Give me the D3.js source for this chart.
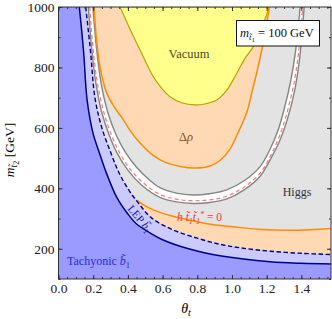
<!DOCTYPE html>
<html><head><meta charset="utf-8">
<script src="https://cdn.jsdelivr.net/npm/d3@7"></script>
<style>
body{margin:0;background:#fff}
svg{display:block;font-family:"Liberation Serif","DejaVu Serif",serif}
svg text{font-family:"Liberation Serif","DejaVu Serif",serif}
</style></head><body>
<svg id="chart" width="332" height="319"></svg>
<script>
// curves as [theta_t, m_t2 (GeV)]
const tachyonic = [[0.12,1000],[0.145,850],[0.165,692],[0.2,580],[0.23,527],[0.27,460],[0.336,370],[0.4,315],[0.45,282],[0.53,252],[0.6,230],[0.75,200],[0.94,176],[1.22,157],[1.4,152],[1.571,150]];
const lepSbottom = [[0.157,1000],[0.185,850],[0.21,700],[0.25,600],[0.3,520],[0.35,450],[0.41,390],[0.46,352],[0.53,305],[0.65,265],[0.8,235],[0.93,215],[1.05,203],[1.22,192],[1.4,185],[1.571,181]];
const rhoLow = [[0.45,362],[0.5,342],[0.55,328],[0.65,309],[0.75,295],[0.85,284],[0.95,276],[1.05,270],[1.15,265],[1.25,262],[1.35,261],[1.45,263],[1.571,267]];
const rhoUp = [[0.205,1000],[0.218,900],[0.24,800],[0.275,720],[0.32,670],[0.37,630],[0.42,585],[0.47,550],[0.547,508],[0.62,485],[0.7,472],[0.79,467],[0.874,474],[0.931,492],[0.989,530],[1.04,590],[1.085,650],[1.12,730],[1.15,800],[1.18,880],[1.216,1000]];
const vacuum = [[0.355,1000],[0.41,930],[0.47,858],[0.547,769],[0.595,731],[0.643,703],[0.71,683],[0.787,676],[0.85,680],[0.912,692],[0.97,725],[1.028,781],[1.075,830],[1.123,869],[1.17,930],[1.216,1000]];
const higgsOuter = [[0.172,1000],[0.19,870],[0.215,750],[0.25,650],[0.29,580],[0.335,520],[0.4,460],[0.48,410],[0.585,370],[0.68,355],[0.776,350],[0.87,353],[0.97,365],[1.07,395],[1.162,440],[1.225,500],[1.277,560],[1.318,626],[1.36,720],[1.39,830],[1.416,1000]];
const higgsInner = [[0.198,1000],[0.218,870],[0.245,750],[0.285,650],[0.33,580],[0.385,520],[0.45,470],[0.52,430],[0.585,402],[0.68,384],[0.776,378],[0.87,382],[0.97,395],[1.07,425],[1.162,472],[1.22,530],[1.266,593],[1.3,660],[1.34,760],[1.37,870],[1.393,1000]];
const zeroCoupling = [[0.18,1000],[0.198,870],[0.224,750],[0.262,650],[0.303,580],[0.35,520],[0.415,462],[0.495,415],[0.585,380],[0.68,364],[0.776,359],[0.87,362],[0.97,374],[1.07,404],[1.162,450],[1.224,510],[1.273,572],[1.312,640],[1.353,735],[1.383,845],[1.408,1000]];
const xTicks = [0, 0.2, 0.4, 0.6, 0.8, 1.0, 1.2, 1.4];
const yTicks = [200, 400, 600, 800, 1000];

const svg = d3.select("#chart");
const x = d3.scaleLinear().domain([0, Math.PI / 2]).range([58.5, 331]);
const y = d3.scaleLinear().domain([100, 1000]).range([279, 7]);
const line = d3.line().x(d => x(d[0])).y(d => y(d[1])).curve(d3.curveCatmullRom.alpha(0.5));
const pt = (t, m) => `L${x(t)},${y(m)}`;

svg.append("clipPath").attr("id", "clip").append("rect")
  .attr("x", x(0)).attr("y", y(1000)).attr("width", x(Math.PI / 2) - x(0)).attr("height", y(100) - y(1000));
const plot = svg.append("g").attr("clip-path", "url(#clip)");

// Higgs excluded background
plot.append("rect").attr("x", x(0)).attr("y", y(1000)).attr("width", x(Math.PI / 2) - x(0)).attr("height", y(100) - y(1000)).attr("fill", "#e3e3e3");
// allowed white band
plot.append("path").attr("fill", "#fff")
  .attr("d", line(higgsOuter) + line(higgsInner.slice().reverse()).replace(/^M/, "L") + "Z");
// Delta rho
plot.append("path").attr("fill", "#ffd8b4").attr("d", line(rhoUp) + "Z");
plot.append("path").attr("fill", "#ffd8b4").attr("d", line(rhoLow) + pt(1.7, 50) + pt(0.45, 50) + "Z");
// vacuum
plot.append("path").attr("fill", "#ffff8c").attr("stroke", "#b3a600").attr("stroke-width", 1.2).attr("d", line(vacuum) + "Z");
// lines
[higgsOuter, higgsInner].forEach(c => plot.append("path").attr("fill", "none").attr("stroke", "#858585").attr("stroke-width", 1.4).attr("d", line(c)));
plot.append("path").attr("fill", "none").attr("stroke", "#f27a7a").attr("stroke-width", 1.2).attr("stroke-dasharray", "4,3").attr("d", line(zeroCoupling));
[rhoUp, rhoLow].forEach(c => plot.append("path").attr("fill", "none").attr("stroke", "#ff8c00").attr("stroke-width", 1.5).attr("d", line(c)));
// sbottom regions
plot.append("path").attr("fill", "#cacaff").attr("d", line(lepSbottom) + pt(1.7, 181) + pt(1.7, 50) + pt(-0.1, 50) + pt(-0.1, 1100) + pt(0.157, 1100) + "Z");
plot.append("path").attr("fill", "#9a9aff").attr("d", line(tachyonic) + pt(1.7, 150) + pt(1.7, 50) + pt(-0.1, 50) + pt(-0.1, 1100) + pt(0.12, 1100) + "Z");
plot.append("path").attr("fill", "none").attr("stroke", "#00008c").attr("stroke-width", 1.4).attr("stroke-dasharray", "4.5,2.5").attr("d", line(lepSbottom));
plot.append("path").attr("fill", "none").attr("stroke", "#00008c").attr("stroke-width", 1.5).attr("d", line(tachyonic));

// frame and ticks
const tickCol = "#333";
const axes = [
  [d3.axisBottom(x).tickValues(xTicks).tickFormat(d3.format(".1f")), `translate(0,${y(100)})`, 4],
  [d3.axisBottom(x).tickValues(d3.range(0, 1.58, 0.05)).tickFormat(""), `translate(0,${y(100)})`, 2],
  [d3.axisTop(x).tickValues(xTicks).tickFormat(""), `translate(0,${y(1000)})`, 4],
  [d3.axisTop(x).tickValues(d3.range(0, 1.58, 0.05)).tickFormat(""), `translate(0,${y(1000)})`, 2],
  [d3.axisLeft(y).tickValues(yTicks).tickFormat(d3.format("d")), `translate(${x(0)},0)`, 4],
  [d3.axisLeft(y).tickValues(d3.range(100, 1001, 100)).tickFormat(""), `translate(${x(0)},0)`, 2],
  [d3.axisRight(y).tickValues(yTicks).tickFormat(""), `translate(${x(Math.PI / 2)},0)`, 4],
  [d3.axisRight(y).tickValues(d3.range(100, 1001, 100)).tickFormat(""), `translate(${x(Math.PI / 2)},0)`, 2]
];
axes.forEach(([ax, tr, len]) => {
  const g = svg.append("g").attr("transform", tr)
    .call(ax.tickSizeInner(-len).tickSizeOuter(0).tickPadding(len === 4 ? 4 : 0));
  g.attr("font-family", "Liberation Serif").attr("font-size", 13.5);
  g.select(".domain").remove();
  g.selectAll("line").attr("stroke", tickCol);
  g.selectAll("text").attr("fill", "#222");
});
svg.append("rect").attr("x", x(0)).attr("y", y(1000)).attr("width", x(Math.PI / 2) - x(0)).attr("height", y(100) - y(1000))
  .attr("fill", "none").attr("stroke", tickCol).attr("stroke-width", 1);

// axis titles
const xt = svg.append("text").attr("x", 186).attr("y", 313).attr("font-size", 14).attr("text-anchor", "middle");
xt.append("tspan").attr("font-style", "italic").text("θ");
xt.append("tspan").attr("font-style", "italic").attr("font-size", 10).attr("dy", 2.5).text("t");
const yt = svg.append("text").attr("transform", "translate(14,150) rotate(-90)").attr("font-size", 13.5).attr("text-anchor", "middle");
yt.append("tspan").attr("font-style", "italic").text("m");
yt.append("tspan").attr("font-style", "italic").attr("font-size", 9.5).attr("dy", 3).text("t̃");
yt.append("tspan").attr("font-size", 8).attr("dy", 1.5).text("2");
yt.append("tspan").attr("dy", -4.5).text(" [GeV]");

// region labels
const label = (tx, ty, txt, col, size) => svg.append("text").attr("x", tx).attr("y", ty).attr("font-size", size).attr("fill", col).attr("text-anchor", "middle").text(txt);
label(189, 58, "Vacuum", "#4d4d22", 12.5);
label(297, 196, "Higgs", "#333", 12);
const dr = svg.append("text").attr("x", 186).attr("y", 141).attr("font-size", 12.5).attr("fill", "#8c4a1e").attr("text-anchor", "middle");
dr.append("tspan").text("Δ");
dr.append("tspan").attr("font-style", "italic").text("ρ");

const hz = svg.append("text").attr("x", 177).attr("y", 221).attr("font-size", 11.5).attr("fill", "#e83c3c").attr("font-style", "italic");
hz.append("tspan").text("h t̃");
hz.append("tspan").attr("font-size", 8).attr("dy", 2.5).text("1");
hz.append("tspan").attr("dy", -2.5).text("t̃");
hz.append("tspan").attr("font-size", 8).attr("dy", 2.5).text("1");
hz.append("tspan").attr("font-size", 8).attr("dy", -7).text("*");
hz.append("tspan").attr("font-style", "normal").attr("dy", 4.5).text(" = 0");

const lep = svg.append("text").attr("transform", "translate(137,221) rotate(50)").attr("font-size", 11).attr("fill", "#1a1a9a").attr("text-anchor", "middle");
lep.append("tspan").text("LEP ");
lep.append("tspan").attr("font-style", "italic").text("b̃");
lep.append("tspan").attr("font-size", 8).attr("dy", 2.5).text("1");

const tach = svg.append("text").attr("x", 67).attr("y", 265).attr("font-size", 12).attr("fill", "#2a2ae0");
tach.append("tspan").text("Tachyonic ");
tach.append("tspan").attr("font-style", "italic").text("b̃");
tach.append("tspan").attr("font-size", 8.5).attr("dy", 2.5).text("1");

// legend box
svg.append("rect").attr("x", 236.5).attr("y", 20.5).attr("width", 83).attr("height", 25.5).attr("fill", "#fff").attr("stroke", "#111").attr("stroke-width", 1);
const lg = svg.append("text").attr("x", 240).attr("y", 37).attr("font-size", 12.5).attr("fill", "#111");
lg.append("tspan").attr("font-style", "italic").text("m");
lg.append("tspan").attr("font-style", "italic").attr("font-size", 8.5).attr("dy", 3).text("t̃");
lg.append("tspan").attr("font-size", 7).attr("dy", 1.5).text("1");
lg.append("tspan").attr("dy", -4.5).text(" = 100 GeV");
</script>
</body></html>
